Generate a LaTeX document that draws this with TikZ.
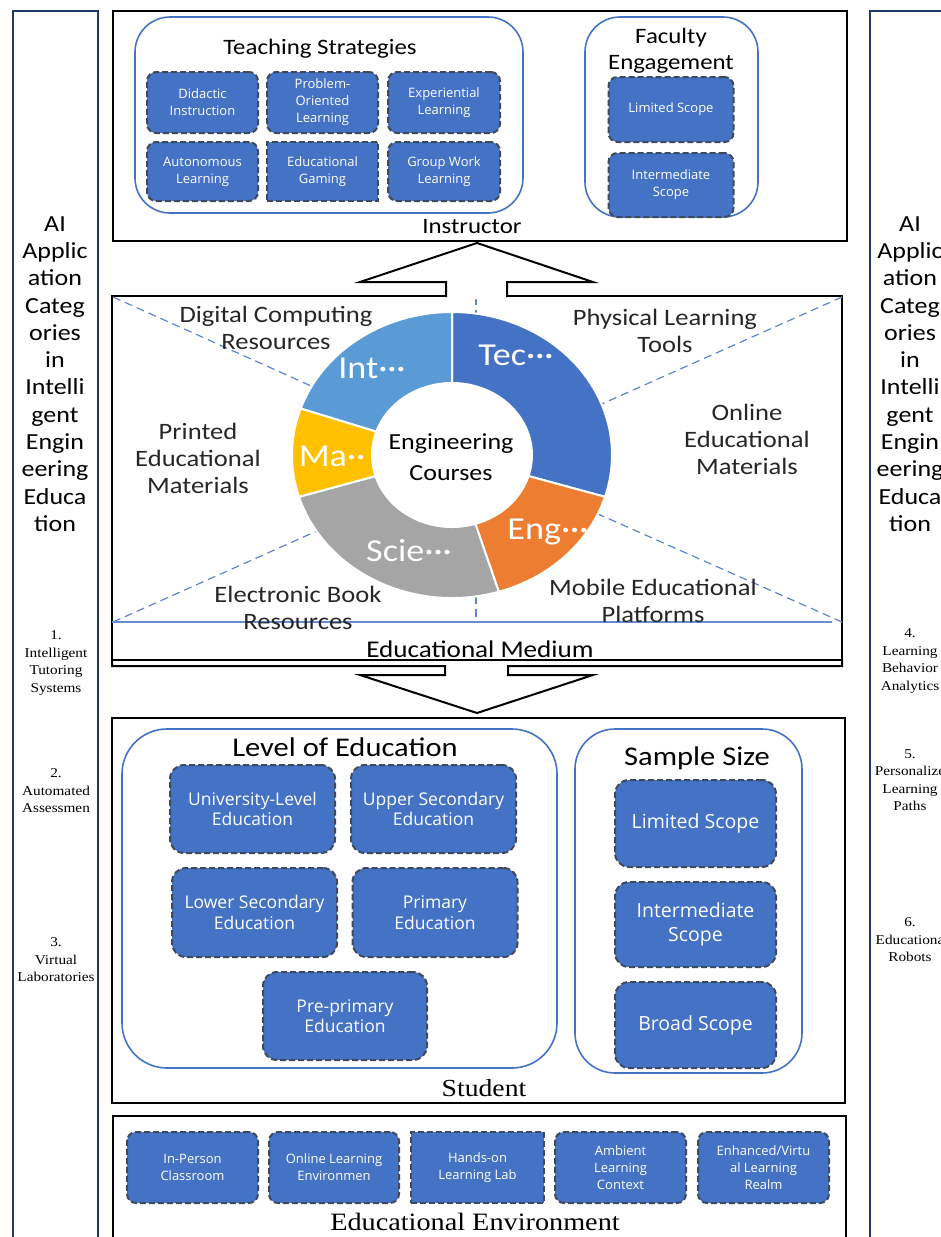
\documentclass[tikz,border=0pt]{standalone}
\usepackage{fontspec}
\setmainfont{Carlito}[FakeStretch=1.13]
\newfontfamily\boxfont{Open Sans}
\newfontfamily\timesfont{Liberation Serif}[FakeStretch=1.13]
\usepackage{tikz}
\usetikzlibrary{positioning,calc}

\newcommand{\setfs}[2]{\fontsize{#1}{#2}\selectfont}

\definecolor{boxblue}{HTML}{4472C4}
\definecolor{dashgray}{HTML}{3E4A5B}
\definecolor{navyline}{HTML}{1F3864}
\definecolor{guideblue}{HTML}{5B86CF}
\definecolor{segTec}{HTML}{4472C4}
\definecolor{segEng}{HTML}{ED7D31}
\definecolor{segSci}{HTML}{A5A5A5}
\definecolor{segMa}{HTML}{FFC000}
\definecolor{segInt}{HTML}{5B9BD5}

\tikzset{
  leaf/.style={draw=dashgray, dash pattern=on 6pt off 3pt, line width=2pt,
    fill=boxblue, rounded corners=9pt, text=white, align=center, inner sep=2pt},
  leafsq/.style={leaf, sharp corners},
  leafA/.style={font=\boxfont\setfs{13}{17}},
  leafB/.style={font=\boxfont\setfs{17.5}{20.5}},
  leafC/.style={font=\boxfont\setfs{19.5}{24}},
  holder/.style={draw=boxblue, line width=1.6pt, rounded corners=#1},
  outerbox/.style={draw=black, line width=2.5pt},
  sidebar/.style={draw=navyline, line width=2pt},
  guideline/.style={draw=guideblue, dash pattern=on 8pt off 5pt, line width=1.2pt},
  medlbl/.style={align=center, text=black!85, font=\setfs{23.5}{27}},
  seglbl/.style={text=white, font=\setfs{32}{36}},
  applbl/.style={align=center, font=\timesfont\setfs{13.5}{17.5}},
}

\begin{document}
\begin{tikzpicture}[x=1pt, y=-1pt]
    \useasboundingbox (0,0) rectangle (940,1237);

    % side columns
    \draw[sidebar] (13,11) rectangle (98,1250);
    \draw[sidebar] (870,11) rectangle (960,1250);
    \node[align=center, font=\setfs{23}{27.3}] (aiL) at (55,374)
        {AI\\Applic\\ation\\Categ\\ories\\in\\Intelli\\gent\\Engin\\eering\\Educa\\tion};
    \node[align=center, font=\setfs{23}{27.3}] (aiR) at (910,374)
        {AI\\Applic\\ation\\Categ\\ories\\in\\Intelli\\gent\\Engin\\eering\\Educa\\tion};
    \node[applbl] (app1) at (56,663) {1.\\Intelligent\\Tutoring\\Systems};
    \node[applbl] (app2) at (56,791) {2.\\Automated\\Assessmen};
    \node[applbl] (app3) at (56,960) {3.\\Virtual\\Laboratories};
    \node[applbl] (app4) at (910,661) {4.\\Learning\\Behavior\\Analytics};
    \node[applbl] (app5) at (910,780) {5.\\Personalize\\Learning\\Paths};
    \node[applbl] (app6) at (910,940) {6.\\Educationa\\Robots};

    % Instructor
    \draw[outerbox] (113,11) rectangle (847,241);
    \draw[holder=35pt] (135,17) rectangle (523,213);
    \draw[holder=35pt] (585,17) rectangle (758,217);
    \node[font=\setfs{22}{26}] (tTeach) at (320,49) {Teaching Strategies};
    \node[leaf, leafA, minimum width=111, minimum height=61] (didactic) at (202.5,102.5) {Didactic\\Instruction};
    \node[leaf, leafA, minimum width=111, minimum height=61] (problem) at (322.5,102.5) {Problem-\\Oriented\\Learning};
    \node[leaf, leafA, minimum width=112, minimum height=61] (experien) at (444,102.5) {Experiential\\Learning};
    \node[leaf, leafA, minimum width=111, minimum height=59] (autonom) at (202.5,171.5) {Autonomous\\Learning};
    \node[leafsq, leafA, minimum width=111, minimum height=59] (gaming) at (322.5,171.5) {Educational\\Gaming};
    \node[leaf, leafA, minimum width=112, minimum height=59] (groupwork) at (444,171.5) {Group Work\\Learning};
    \node[align=center, font=\setfs{22}{26}] (tFac) at (671,51) {Faculty\\Engagement};
    \node[leaf, leafA, minimum width=125, minimum height=65] (facLim) at (671,109.5) {Limited Scope};
    \node[leaf, leafA, minimum width=125, minimum height=64] (facInt) at (671,185) {Intermediate\\Scope};
    \node[font=\setfs{22}{26}] (tInstr) at (472,227) {Instructor};

    % Educational Medium
    \draw[outerbox] (112,296) rectangle (842,660);
    \draw[boxblue!80, line width=1.5pt] (112,622) -- (832,622);
    \coordinate (hub) at (476,460);
    \coordinate (cTL) at (113,297);
    \coordinate (cBL) at (113,622);
    \coordinate (cTR) at (842,297);
    \coordinate (cBR) at (842,622);
    \coordinate (cT) at (476,297);
    \coordinate (cB) at (476,622);
    \draw[guideline] (cTL) -- (hub);
    \draw[guideline] (cBL) -- (hub);
    \draw[guideline] (cTR) -- (hub);
    \draw[guideline] (cBR) -- (hub);
    \draw[guideline] (cT) -- (cB);
    \begin{scope}[shift={(452,455)}, yscale=-1]
        \fill[white] (0,0) ellipse[x radius=80, y radius=72];
        \foreach \a/\b/\col in {90/-17/segTec, -17/-73/segEng, -73/-163/segSci, -163/-199/segMa, -199/-270/segInt}
            \filldraw[fill=\col, draw=white, line width=2pt]
                (\a:160 and 143) arc[start angle=\a, end angle=\b, x radius=160, y radius=143]
                -- (\b:80 and 72) arc[start angle=\b, end angle=\a, x radius=80, y radius=72] -- cycle;
    \end{scope}
    \node[seglbl] (sTec) at (516,355) {Tec···};
    \node[seglbl] (sEng) at (548,532) {Eng···};
    \node[seglbl] (sSci) at (409,551) {Scie···};
    \node[seglbl] (sMa) at (332,456) {Ma··};
    \node[seglbl] (sInt) at (372,368) {Int···};
    \node[align=center, font=\setfs{23}{31}] (courses) at (451,457) {Engineering\\Courses};
    \node[medlbl] (mDigital) at (276,328) {Digital Computing\\Resources};
    \node[medlbl] (mPhysical) at (665,331) {Physical Learning\\Tools};
    \node[medlbl] (mPrinted) at (198,458) {Printed\\Educational\\Materials};
    \node[medlbl] (mOnline) at (747,439) {Online\\Educational\\Materials};
    \node[medlbl] (mEbook) at (298,608) {Electronic Book\\Resources};
    \node[medlbl] (mMobile) at (653,601) {Mobile Educational\\Platforms};
    \node[fill=white, inner sep=1pt, font=\setfs{24}{28}] (tMedium) at (480,649) {Educational Medium};

    % arrows
    \fill[white] (446,299) -- (446,282) -- (360,282) -- (477,243) -- (593,282) -- (507,282) -- (507,299) -- cycle;
    \draw[line width=2pt, line join=miter] (446,297) -- (446,282) -- (360,282) -- (477,243) -- (593,282) -- (507,282) -- (507,297);
    \draw[line width=2pt] (112,660) -- (112,666) -- (445,666) -- (445,675) -- (360,675) -- (477,713)
        -- (593,675) -- (508,675) -- (508,666) -- (842,666) -- (842,660);

    % Student
    \draw[outerbox] (112,718) rectangle (845,1103);
    \draw[holder=45pt] (122,729) rectangle (557,1068);
    \draw[holder=40pt] (575,729) rectangle (802,1073);
    \node[font=\setfs{27}{30}] (tLevel) at (345,747) {Level of Education};
    \node[leaf, leafB, rounded corners=14pt, minimum width=165, minimum height=88] (univ) at (252.5,809) {University-Level\\Education};
    \node[leaf, leafB, rounded corners=14pt, minimum width=165, minimum height=88] (upper) at (433.5,809) {Upper Secondary\\Education};
    \node[leaf, leafB, rounded corners=14pt, minimum width=165, minimum height=89] (lower) at (254.5,912.5) {Lower Secondary\\Education};
    \node[leaf, leafB, rounded corners=14pt, minimum width=165, minimum height=89] (primary) at (435,912.5) {Primary\\Education};
    \node[leaf, leafB, rounded corners=14pt, minimum width=164, minimum height=88] (preprim) at (345,1016) {Pre-primary\\Education};
    \node[font=\setfs{27}{30}] (tSample) at (697,758) {Sample Size};
    \node[leaf, leafC, rounded corners=14pt, minimum width=161, minimum height=87] (sLimited) at (695.5,823.5) {Limited Scope};
    \node[leaf, leafC, rounded corners=14pt, minimum width=161, minimum height=85] (sInter) at (695.5,924.5) {Intermediate\\Scope};
    \node[leaf, leafC, rounded corners=14pt, minimum width=161, minimum height=86] (sBroad) at (695.5,1025) {Broad Scope};
    \node[font=\timesfont\setfs{24.5}{28}] (tStudent) at (484,1088) {Student};

    % Educational Environment
    \draw[outerbox] (113,1116) rectangle (846,1250);
    \node[leaf, leafA, minimum width=131, minimum height=71] (inperson) at (192.5,1167.5) {In-Person\\Classroom};
    \node[leaf, leafA, minimum width=130, minimum height=71] (online) at (334,1167.5) {Online Learning\\Environmen};
    \node[leafsq, leafA, minimum width=133, minimum height=71] (handson) at (477.5,1167.5) {Hands-on\\Learning Lab};
    \node[leaf, leafA, minimum width=131, minimum height=71] (ambient) at (620.5,1167.5) {Ambient\\Learning\\Context};
    \node[leaf, leafA, minimum width=131, minimum height=71] (virtual) at (763.5,1167.5) {Enhanced/Virtu\\al Learning\\Realm};
    \node[font=\timesfont\setfs{25}{28}] (tEnv) at (475,1222) {Educational Environment};
\end{tikzpicture}
\end{document}
